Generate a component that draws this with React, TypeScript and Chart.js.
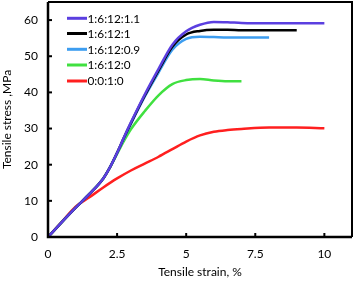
import React, { useEffect, useRef } from "react";
import { Chart, registerables } from "chart.js";

Chart.register(...registerables);

const seriesLabels = ["1:6:12:1.1", "1:6:12:1", "1:6:12:0.9", "1:6:12:0", "0:0:1:0"];
const seriesColors = ["#5b3fe0", "#000000", "#3d9df0", "#40e040", "#ff1f1f"];

const strainA = [0, 0.5, 1, 1.5, 2, 2.25, 2.5, 2.75, 3, 3.5, 4, 4.5, 5, 5.5, 6, 6.5, 7, 8, 9, 10];
const stressA = [0, 4.1, 8.1, 11.9, 16.2, 19.4, 23.3, 27.6, 31.7, 39.4, 46.5, 53.2, 56.9, 58.7, 59.5, 59.4, 59.2, 59.1, 59.1, 59.1];

const strainB = [0, 0.5, 1, 1.5, 2, 2.25, 2.5, 2.75, 3, 3.5, 4, 4.5, 5, 5.5, 6, 6.5, 7, 8, 9];
const stressB = [0, 4.1, 8.1, 11.9, 16.2, 19.4, 23.3, 27.5, 31.5, 39.1, 46.1, 52.6, 56.0, 57.0, 57.3, 57.3, 57.2, 57.2, 57.2];

const strainC = [0, 0.5, 1, 1.5, 2, 2.25, 2.5, 2.75, 3, 3.5, 4, 4.5, 5, 5.5, 6, 6.5, 7, 8];
const stressC = [0, 4.1, 8.1, 11.9, 16.2, 19.4, 23.2, 27.3, 31.3, 38.8, 45.5, 51.8, 54.8, 55.4, 55.3, 55.2, 55.2, 55.2];

const strainD = [0, 0.5, 1, 1.5, 2, 2.25, 2.5, 2.75, 3, 3.5, 4, 4.5, 5, 5.5, 6, 6.5, 7];
const stressD = [0, 4.1, 8.1, 11.9, 16.2, 19.3, 23.0, 26.6, 29.8, 34.8, 39.2, 42.3, 43.4, 43.7, 43.3, 43.1, 43.1];

const strainE = [0, 0.5, 1, 1.5, 2, 2.5, 3, 3.5, 4, 4.5, 5, 5.5, 6, 6.5, 7, 8, 9, 10];
const stressE = [0, 4.2, 8.4, 11.0, 13.7, 16.2, 18.4, 20.3, 22.2, 24.3, 26.4, 28.1, 29.1, 29.6, 29.9, 30.3, 30.3, 30.1];

const strainSets = [strainA, strainB, strainC, strainD, strainE];
const stressSets = [stressA, stressB, stressC, stressD, stressE];

const xTickValues = [0, 2.5, 5, 7.5, 10];
const yTickValues = [0, 10, 20, 30, 40, 50, 60];

const FONT = "Lato, 'Open Sans', sans-serif";

const framePlugin = {
  id: "frame",
  afterDraw(chart: any) {
    const { ctx, chartArea } = chart;
    const { left, top, right, bottom } = chartArea;
    const xs = chart.scales.x;
    const ys = chart.scales.y;
    ctx.save();
    ctx.strokeStyle = "#000";
    ctx.lineWidth = 2;
    ctx.beginPath();
    ctx.moveTo(left, top);
    ctx.lineTo(right, top);
    ctx.lineTo(right, bottom);
    ctx.stroke();
    ctx.lineWidth = 2.5;
    ctx.beginPath();
    ctx.moveTo(left, top);
    ctx.lineTo(left, bottom);
    ctx.lineTo(right, bottom);
    ctx.stroke();
    ctx.lineWidth = 2;
    xTickValues.forEach((v) => {
      if (v === 0) return;
      const px = xs.getPixelForValue(v);
      ctx.beginPath();
      ctx.moveTo(px, bottom);
      ctx.lineTo(px, bottom - 4);
      ctx.stroke();
    });
    yTickValues.forEach((v) => {
      if (v === 0) return;
      const py = ys.getPixelForValue(v);
      ctx.beginPath();
      ctx.moveTo(left, py);
      ctx.lineTo(left + 4, py);
      ctx.stroke();
    });
    const rowY = [18.3, 33.5, 49.3, 65, 81];
    ctx.font = `11.8px ${FONT}`;
    ctx.textBaseline = "middle";
    ctx.textAlign = "left";
    seriesLabels.forEach((lab, i) => {
      ctx.strokeStyle = seriesColors[i];
      ctx.lineWidth = 3;
      ctx.beginPath();
      ctx.moveTo(67, rowY[i]);
      ctx.lineTo(87, rowY[i]);
      ctx.stroke();
      ctx.fillStyle = "#000";
      ctx.fillText(lab, 87.5, rowY[i] + 0.5);
    });
    ctx.restore();
  },
};

export default function App() {
  const ref = useRef<HTMLCanvasElement | null>(null);
  useEffect(() => {
    if (!ref.current) return;
    const datasets = seriesLabels.map((lab, i) => ({
      label: lab,
      data: strainSets[i].map((x, j) => ({ x, y: stressSets[i][j] })),
      borderColor: seriesColors[i],
      backgroundColor: seriesColors[i],
      borderWidth: 2.5,
      pointRadius: 0,
      fill: false,
      order: i,
      cubicInterpolationMode: "monotone" as const,
    }));
    const chart = new Chart(ref.current, {
      type: "line",
      data: { datasets },
      options: {
        animation: false,
        responsive: false,
        layout: { padding: { top: 2, right: 2, left: 0, bottom: 0 } },
        plugins: { legend: { display: false }, tooltip: { enabled: false } },
        scales: {
          x: {
            type: "linear",
            min: 0,
            max: 11,
            afterFit: (s: any) => {
              s.height = 45;
              s.paddingLeft = 0;
              s.paddingRight = 0;
            },
            afterBuildTicks: (s: any) => {
              s.ticks = xTickValues.map((v) => ({ value: v }));
            },
            ticks: {
              padding: 10,
              color: "#000",
              font: { family: FONT, size: 12 },
              maxRotation: 0,
              callback: (v: any) => String(v),
            },
            grid: { display: false, drawTicks: false },
            border: { display: false },
            title: {
              display: true,
              text: "Tensile strain, %",
              color: "#000",
              font: { family: FONT, size: 12 },
              padding: { top: 0, bottom: 3 },
            },
          },
          y: {
            type: "linear",
            min: 0,
            max: 65,
            afterFit: (s: any) => {
              s.width = 48;
              s.paddingTop = 0;
              s.paddingBottom = 0;
            },
            afterBuildTicks: (s: any) => {
              s.ticks = yTickValues.map((v) => ({ value: v }));
            },
            ticks: {
              padding: 10,
              color: "#000",
              font: { family: FONT, size: 12 },
              callback: (v: any) => String(v),
            },
            grid: { display: false, drawTicks: false },
            border: { display: false },
            title: {
              display: true,
              text: "Tensile stress ,MPa",
              color: "#000",
              font: { family: FONT, size: 12 },
              padding: { top: 0, bottom: 0 },
            },
          },
        },
      },
      plugins: [framePlugin],
    });
    return () => chart.destroy();
  }, []);
  return (
    <div style={{ position: "fixed", left: 0, top: 0, width: 354, height: 282, background: "#fff" }}>
      <canvas ref={ref} width={354} height={282} style={{ display: "block" }} />
    </div>
  );
}
